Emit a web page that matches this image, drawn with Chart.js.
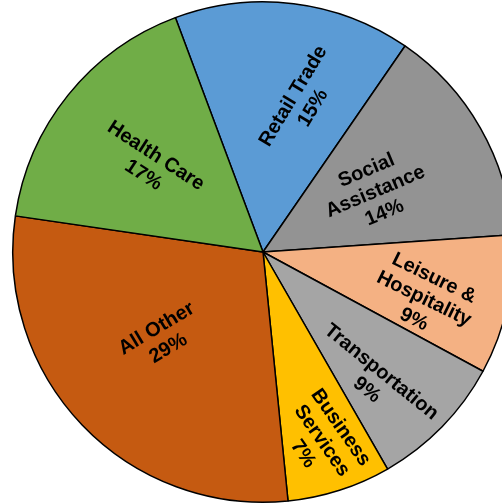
<!DOCTYPE html>
<html>
<head>
<meta charset="utf-8">
<script src="https://cdn.jsdelivr.net/npm/chart.js@4"></script>
<style>
  html, body { margin: 0; padding: 0; background: #fff; overflow: hidden; }
  #wrap { position: relative; width: 502px; height: 504px; overflow: hidden; }
  #pie { position: absolute; left: 0; top: 0; }
</style>
</head>
<body>
<div id="wrap"><canvas id="pie" width="526" height="504"></canvas></div>
<script>
// data (share of total, %)
const categories = ['Retail Trade', 'Social\nAssistance', 'Leisure &\nHospitality', 'Transportation', 'Business\nServices', 'All Other', 'Health Care'];
const shares = [15.3, 14.3, 9.0, 8.8, 6.7, 28.9, 17.0];
const colors = ['#5B9BD5', '#939393', '#F4B183', '#A5A5A5', '#FFC000', '#C55A11', '#70AD47'];

// label placement: [angle shift deg, radius fraction, text rotation deg]
const labelPlace = [
    [8, 0.62, -59],
    [1.5, 0.51, -23],
    [4, 0.67, 26],
    [5, 0.68, 39],
    [0.5, 0.79, 55],
    [3, 0.53, -31],
    [-1.6, 0.57, 33]
];

const sliceLabels = {
    id: 'sliceLabels',
    afterDatasetsDraw(chart) {
        const ctx = chart.ctx;
        const meta = chart.getDatasetMeta(0);
        const total = shares.reduce((a, b) => a + b, 0);
        ctx.save();
        ctx.font = 'bold 20px "Liberation Sans", Arial, sans-serif';
        ctx.fillStyle = '#000';
        ctx.textAlign = 'center';
        ctx.textBaseline = 'middle';
        meta.data.forEach((arc, i) => {
            const p = arc.getProps(['x', 'y', 'startAngle', 'endAngle', 'outerRadius'], true);
            const [shift, frac, rot] = labelPlace[i];
            const mid = (p.startAngle + p.endAngle) / 2 + shift * Math.PI / 180;
            const cx = p.x + Math.cos(mid) * p.outerRadius * frac;
            const cy = p.y + Math.sin(mid) * p.outerRadius * frac;
            const lines = categories[i].split('\n');
            lines.push(Math.round(shares[i] / total * 100) + '%');
            const lh = 23;
            ctx.save();
            ctx.translate(cx, cy);
            ctx.rotate(rot * Math.PI / 180);
            lines.forEach((t, k) => {
                ctx.fillText(t, 0, (k - (lines.length - 1) / 2) * lh);
            });
            ctx.restore();
        });
        ctx.restore();
    }
};

new Chart(document.getElementById('pie'), {
    type: 'pie',
    data: {
        labels: categories,
        datasets: [{
            data: shares,
            backgroundColor: colors,
            borderColor: '#000',
            borderWidth: 1.5
        }]
    },
    options: {
        responsive: false,
        animation: false,
        rotation: -20.5,
        layout: { padding: 1 },
        plugins: {
            legend: { display: false },
            tooltip: { enabled: false }
        }
    },
    plugins: [sliceLabels]
});
</script>
</body>
</html>
